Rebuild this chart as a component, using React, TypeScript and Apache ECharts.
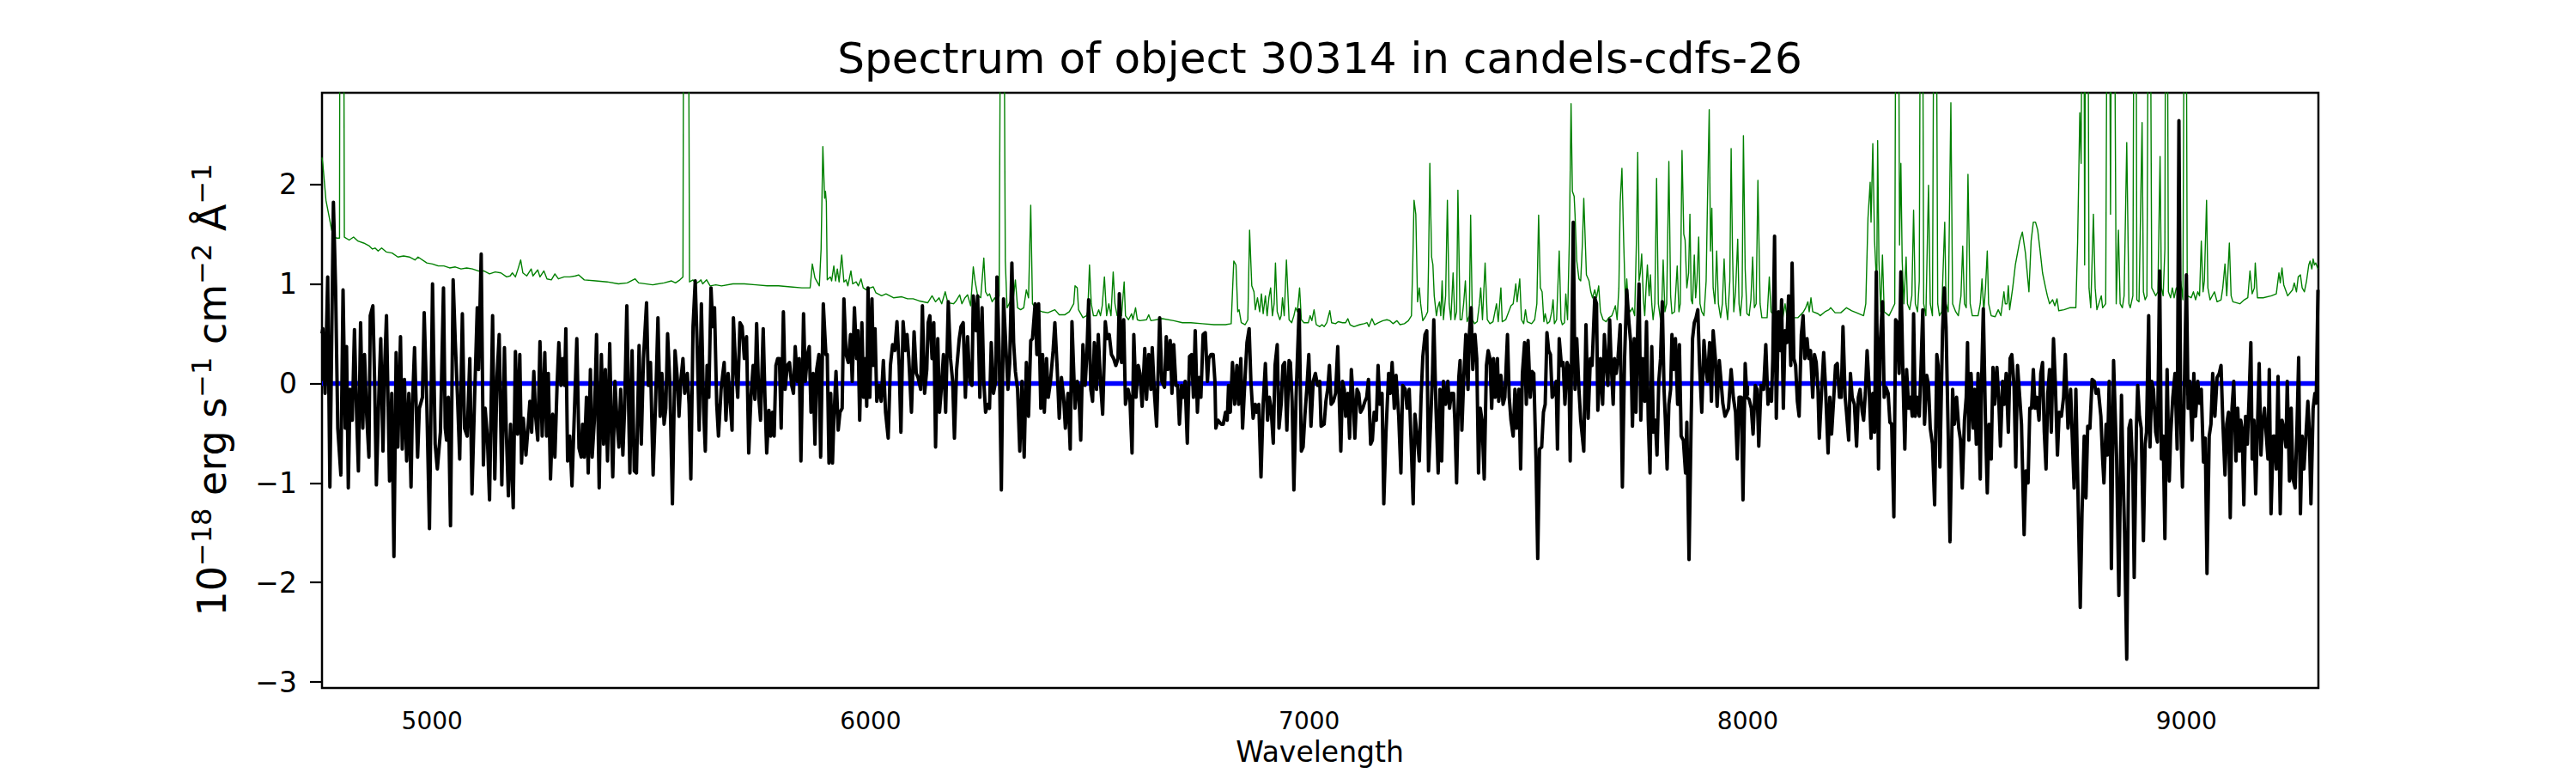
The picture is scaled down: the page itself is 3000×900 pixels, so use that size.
import React, { useEffect, useRef } from 'react';
import * as echarts from 'echarts';

const FONT = 'DejaVu Sans';
const titleText = 'Spectrum of object 30314 in candels-cdfs-26';
const xLabelText = 'Wavelength';
const yLabelRich = '{m|10}{s|\u221218}{m| erg s}{s|\u22121}{m| cm}{s|\u22122}{m| \u00c5}{s|\u22121}';
const xTicks = [5000, 6000, 7000, 8000, 9000];
const yTicks = [-3, -2, -1, 0, 1, 2];
const xRange = [4749, 9301];
const yRange = [-3.06, 2.92];

const continuum: number[][] = [[4749, 0], [9301, 0]];

const fluxA: number[][] = [
[4749,0.50],[4751,0.55],[4756,-0.10],[4762,1.07],[4767,-1.04],[4775,1.82],[4780,0.96],[4785,-0.45],[4792,-0.92],[4797,0.94],[4802,-0.45],[4805,0.37],[4809,-1.05],[4813,-0.06],[4818,-0.37],[4823,0.54],[4828,-0.33],[4832,-0.88],[4837,0.61],[4842,-0.45],[4846,0.29],[4851,-0.33],[4856,-0.74],[4859,0.68],[4865,0.78],[4869,0.02],[4873,-1.02],[4879,-0.06],[4883,0.45],[4888,-0.68],[4892,0.18],[4896,0.68],[4903,-0.98],[4908,-0.10],[4913,-1.74],[4918,0.31],[4922,-0.64],[4928,0.47],[4932,-0.66],[4937,0.04],[4942,-0.78],[4947,-0.10],[4952,-1.04],[4955,-0.25],[4960,0.36],[4967,-0.74],[4971,-0.25],[4978,-0.14],[4982,0.71],[4988,-0.21],[4994,-1.46],[5001,1.00],[5007,-0.61],[5012,-0.86],[5019,-0.49],[5026,0.96],[5030,-0.45],[5033,-0.57],[5037,-0.14],[5042,-1.43],[5048,1.04],[5053,0.41],[5058,-0.14],[5063,-0.76],[5069,0.70],[5074,-0.45],[5080,-0.53],[5086,0.25],[5091,-1.11],[5097,-0.14],[5103,0.76],[5106,0.14],[5112,1.30],[5117,-0.82],[5121,-0.25],[5126,-0.53],[5131,-1.17],[5138,0.68],[5143,-0.96],[5148,0.06],[5153,0.49],[5159,-1.02],[5165,0.36],[5169,-0.45],[5174,-1.13],[5179,-0.41],[5185,-1.25],[5190,0.32],[5195,-0.51],[5200,0.29],[5204,-0.80],[5208,-0.35],[5214,-0.72],[5218,-0.49],[5223,-0.18],[5227,-0.49],[5232,0.12],[5236,-0.33],[5241,-0.57],[5246,0.42],[5251,-0.53],[5257,0.31],[5261,-0.53],[5265,0.10],[5270,-0.96],[5275,-0.31],[5280,-0.74],[5285,-0.02],[5289,0.41],[5294,-0.02],[5298,0.25],[5302,-0.02],[5305,0.55],[5309,-0.78],[5314,-0.53],[5319,-1.03]
];
const fluxB: number[][] = [
[5330,0.45],[5335,-0.65],[5340,-0.74],[5343,-0.41],[5347,-0.74],[5352,-0.14],[5356,-0.90],[5361,0.14],[5365,-0.74],[5370,-0.37],[5375,0.49],[5381,-1.05],[5386,0.29],[5391,-0.61],[5395,0.14],[5400,-0.78],[5405,0.40],[5409,-0.49],[5412,-0.94],[5417,0.02],[5422,-0.41],[5426,-0.64],[5430,-0.06],[5435,-0.72],[5439,-0.25],[5444,0.78],[5448,-0.21],[5451,-0.90],[5456,0.33],[5461,-0.88],[5466,-0.90],[5472,0.38],[5477,-0.61],[5482,0.25],[5489,0.81],[5493,-0.02],[5498,0.21],[5504,-0.92],[5510,-0.14],[5515,0.66],[5520,-0.33],[5524,0.10],[5529,-0.41],[5533,-0.25],[5537,0.50],[5542,0.02],[5548,-1.21],[5554,0.33],[5559,0.06],[5563,-0.33],[5567,0.02],[5572,0.25],[5576,-0.10],[5582,0.10],[5586,-0.21],[5590,-0.96],[5595,0.57],[5600,1.03],[5604,0.45],[5609,-0.47],[5614,0.80],[5619,-0.25],[5623,-0.68],[5627,0.18],[5631,-0.14],[5636,0.96],[5640,0.57],[5644,0.76],[5649,-0.21],[5653,-0.53],[5659,-0.06],[5663,0.10],[5666,0.21],[5670,-0.37],[5675,0.10],[5679,-0.14],[5684,-0.47],[5687,0.66],[5692,0.18],[5697,-0.14],[5702,0.61],[5707,0.57],[5712,0.25],[5717,0.47],[5722,-0.70],[5727,-0.14],[5732,0.18],[5736,-0.16],[5740,0.60],[5745,-0.14],[5749,-0.37],[5755,0.55],[5759,-0.14],[5763,-0.70],[5768,-0.27],[5772,-0.53],[5776,-0.29],[5780,-0.53],[5784,0.18],[5788,0.25],[5792,0.25],[5796,-0.45],[5801,0.72],[5805,-0.06],[5810,0.18],[5815,0.21],[5820,-0.02],[5824,-0.10],[5828,0.37],[5833,0.02],[5837,0.25],[5841,-0.78],[5847,0.70],[5851,0.02],[5856,0.29],[5860,0.37],[5864,-0.29],[5869,0.10],[5873,-0.61],[5877,0.14],[5882,0.29],[5886,-0.74],[5892,0.80]
];
const fluxC: number[][] = [
[5898,0.29],[5901,0.29],[5905,-0.80],[5909,-0.10],[5913,-0.80],[5916,-0.37],[5921,0.12],[5926,-0.47],[5930,-0.29],[5935,-0.25],[5939,0.85],[5944,0.29],[5949,0.21],[5954,0.49],[5958,0.02],[5963,0.76],[5968,0.25],[5971,0.53],[5975,-0.37],[5980,0.61],[5984,-0.14],[5988,0.25],[5991,-0.23],[5994,0.96],[5998,-0.14],[6003,0.85],[6006,0.18],[6010,0.55],[6014,-0.18],[6019,-0.02],[6024,-0.18],[6029,0.23],[6034,-0.29],[6040,-0.55],[6045,0.18],[6050,0.39],[6055,0.33],[6060,0.62],[6065,0.18],[6069,-0.49],[6074,0.62],[6079,0.33],[6083,0.49],[6087,0.25],[6093,-0.29],[6099,0.52],[6104,0.10],[6108,0.06],[6114,-0.06],[6118,0.78],[6123,-0.10],[6128,0.14],[6131,0.61],[6135,0.68],[6140,0.25],[6144,0.61],[6148,-0.64],[6153,0.45],[6157,-0.29],[6161,-0.06],[6166,0.29],[6171,-0.29],[6177,0.82],[6182,0.25],[6187,0.02],[6191,-0.55],[6196,0.14],[6202,0.45],[6206,0.57],[6211,0.61],[6216,-0.14],[6221,0.47],[6226,0.02],[6231,-0.02],[6234,0.88],[6240,0.53],[6244,0.88],[6249,-0.14],[6254,0.76],[6258,0.02],[6262,-0.29],[6267,-0.21],[6271,-0.25],[6275,0.41],[6280,-0.10],[6285,0.02],[6288,1.07],[6293,0.33],[6298,-1.07],[6303,0.85],[6307,0.49],[6313,-0.06],[6317,0.21],[6322,1.21],[6326,0.41],[6330,0.12],[6335,-0.06],[6340,-0.68],[6345,0.02],[6350,-0.74],[6355,0.21],[6360,-0.33],[6365,0.43],[6369,0.45],[6375,0.80],[6379,0.29],[6383,0.80],[6388,-0.25],[6392,0.29],[6396,-0.29],[6401,0.25],[6405,-0.14],[6410,0.02],[6416,0.33],[6420,0.61],[6425,0.18],[6430,-0.35],[6435,0.06],[6440,-0.14],[6444,-0.45],[6450,-0.10],[6455,-0.66],[6459,0.62]
];
const fluxD: number[][] = [
[6466,-0.25],[6471,0.02],[6474,-0.02],[6479,-0.57],[6484,0.39],[6489,-0.02],[6493,0.29],[6497,0.84],[6502,-0.06],[6506,-0.18],[6510,0.41],[6515,-0.06],[6519,0.49],[6524,0.02],[6529,-0.31],[6535,0.62],[6539,0.45],[6544,0.49],[6549,0.29],[6554,0.25],[6559,0.18],[6564,0.25],[6567,0.90],[6572,0.21],[6577,0.64],[6581,-0.21],[6587,-0.06],[6591,-0.14],[6596,-0.70],[6600,0.49],[6605,-0.14],[6610,0.18],[6614,0.10],[6619,-0.23],[6625,0.35],[6629,-0.16],[6634,0.29],[6639,-0.06],[6642,0.36],[6647,-0.10],[6652,-0.43],[6659,0.66],[6664,0.02],[6670,-0.04],[6674,0.47],[6678,0.14],[6683,0.43],[6687,-0.10],[6691,0.39],[6696,-0.02],[6700,-0.02],[6704,-0.41],[6709,-0.02],[6713,-0.14],[6717,0.02],[6722,-0.60],[6727,0.27],[6732,0.29],[6736,-0.14],[6740,0.53],[6745,-0.29],[6749,0.06],[6753,-0.14],[6758,0.49],[6763,0.51],[6768,0.02],[6771,0.25],[6776,0.29],[6781,0.29],[6785,0.02],[6787,-0.45],[6792,-0.37],[6799,-0.41],[6804,-0.41],[6809,-0.29],[6813,-0.37],[6816,-0.02],[6820,-0.29],[6825,0.21],[6830,-0.21],[6835,0.18],[6839,-0.21],[6844,0.25],[6848,-0.45],[6853,0.00],[6858,0.41],[6863,0.55],[6867,0.02],[6872,-0.35],[6877,-0.21],[6880,-0.29],[6885,-0.21],[6890,-0.94],[6895,-0.20],[6900,0.20],[6905,-0.37],[6909,-0.14],[6913,-0.25],[6918,-0.60],[6922,0.18],[6927,0.39],[6931,-0.45],[6936,-0.21],[6940,0.18],[6944,0.21],[6949,-0.47],[6954,0.23],[6957,0.21],[6961,-0.18],[6965,-1.07],[6970,-0.14],[6973,0.25],[6977,0.74],[6982,-0.68],[6986,-0.64],[6990,-0.33],[6995,-0.02],[6999,0.29],[7004,-0.43],[7009,0.02],[7014,0.10],[7019,-0.02],[7024,0.02],[7027,-0.43]
];
const fluxE: number[][] = [
[7034,-0.41],[7038,-0.18],[7042,-0.06],[7046,0.18],[7050,-0.21],[7055,-0.18],[7060,-0.10],[7065,0.37],[7068,-0.10],[7072,-0.68],[7076,0.02],[7080,-0.06],[7083,-0.33],[7088,-0.10],[7092,-0.55],[7096,0.14],[7100,-0.14],[7104,-0.55],[7109,-0.06],[7113,-0.10],[7117,-0.29],[7122,-0.25],[7127,-0.18],[7131,-0.14],[7135,0.04],[7140,-0.61],[7144,-0.57],[7148,-0.29],[7153,-0.37],[7157,0.18],[7161,-0.21],[7166,-0.10],[7170,-1.21],[7175,-0.49],[7181,0.10],[7185,-0.10],[7189,0.21],[7194,-0.25],[7198,0.08],[7204,-0.33],[7209,-0.90],[7213,-0.02],[7219,-0.06],[7223,-0.25],[7228,-0.06],[7233,-0.68],[7237,-1.21],[7241,-0.31],[7246,-0.53],[7251,-0.78],[7255,-0.14],[7259,0.27],[7264,0.49],[7268,0.53],[7272,-0.88],[7277,-0.37],[7281,0.10],[7284,0.64],[7289,-0.25],[7294,-0.90],[7298,-0.06],[7302,-0.78],[7306,0.02],[7311,-0.21],[7316,0.02],[7320,-0.25],[7324,-0.10],[7329,-0.10],[7332,-0.37],[7336,-1.00],[7341,0.06],[7344,0.23],[7348,-0.47],[7352,0.02],[7357,0.49],[7362,-0.06],[7365,0.49],[7369,0.76],[7373,0.14],[7378,0.49],[7382,0.25],[7386,-0.90],[7390,-0.25],[7394,-0.37],[7399,-0.96],[7404,0.18],[7408,0.33],[7412,0.25],[7416,-0.25],[7420,0.25],[7424,-0.14],[7429,0.25],[7432,-0.18],[7437,0.08],[7442,-0.21],[7446,-0.14],[7452,0.49],[7456,-0.14],[7460,-0.37],[7465,-0.53],[7469,-0.06],[7473,-0.45],[7478,-0.06],[7482,-0.86],[7486,0.10],[7491,0.41],[7495,-0.21],[7499,0.43],[7504,-0.14],[7508,0.12],[7512,0.10],[7517,-0.76],[7521,-1.76],[7525,-0.66],[7530,-0.64],[7534,-0.29],[7538,-0.21],[7542,0.51],[7546,0.33],[7550,0.29],[7554,-0.14],[7558,-0.10],[7563,0.02],[7566,-0.66],[7570,0.45],[7575,0.18],[7579,0.21],[7583,-0.21],[7588,0.21],[7592,0.16],[7595,-0.78]
];
const fluxF: number[][] = [
[7598,0.18],[7602,1.62],[7606,-0.06],[7610,0.45],[7615,-0.06],[7619,-0.37],[7626,-0.68],[7631,0.59],[7636,-0.35],[7641,0.25],[7645,0.18],[7651,0.86],[7655,0.80],[7658,-0.27],[7664,0.25],[7669,-0.21],[7673,0.49],[7677,0.21],[7681,-0.02],[7685,0.64],[7688,0.25],[7693,-0.21],[7696,0.25],[7700,0.10],[7704,0.25],[7709,0.59],[7714,-1.04],[7719,0.25],[7724,0.94],[7729,0.61],[7733,0.41],[7737,-0.43],[7741,0.45],[7745,-0.29],[7749,0.57],[7752,1.00],[7756,-0.37],[7760,0.25],[7765,-0.18],[7769,0.62],[7773,-0.37],[7777,-0.90],[7781,0.37],[7785,-0.49],[7789,-0.37],[7793,-0.72],[7797,0.02],[7801,0.25],[7805,0.82],[7809,-0.06],[7812,-0.37],[7816,-0.86],[7820,-0.21],[7824,-0.06],[7827,0.49],[7831,0.14],[7835,0.45],[7840,-0.21],[7844,0.39],[7848,-0.53],[7853,-0.57],[7858,-0.90],[7861,-0.39],[7866,-1.77],[7871,-0.33],[7874,0.45],[7878,0.61],[7882,0.66],[7886,0.74],[7890,0.18],[7895,-0.29],[7900,0.43],[7904,0.18],[7908,0.02],[7913,0.41],[7917,-0.18],[7921,0.53],[7926,0.25],[7930,-0.23],[7935,0.23],[7939,0.02],[7943,-0.20],[7948,-0.33],[7952,-0.29],[7956,-0.25],[7962,0.14],[7967,-0.14],[7972,-0.29],[7976,-0.76],[7980,-0.14],[7985,-0.14],[7989,-1.17],[7994,0.20],[7998,-0.14],[8003,-0.16],[8008,-0.25],[8012,-0.51],[8017,-0.02],[8021,-0.06],[8025,-0.63],[8030,-0.02],[8036,-0.06],[8041,0.39],[8046,-0.21],[8050,-0.06],[8054,-0.18],[8057,0.25],[8061,1.48],[8065,-0.35],[8070,0.72],[8074,0.33],[8077,0.84],[8081,-0.25],[8085,0.53],[8089,0.41],[8093,0.88],[8098,0.18],[8101,1.21],[8105,0.25],[8109,0.18],[8113,-0.18],[8117,-0.33],[8122,0.49],[8126,0.68],[8130,0.25],[8135,0.45],[8139,0.25],[8143,0.33],[8148,-0.14],[8152,0.29],[8156,0.21],[8160,-0.06],[8163,-0.55]
];
const fluxG: number[][] = [
[8168,-0.10],[8173,0.31],[8177,-0.02],[8183,-0.70],[8187,-0.14],[8191,-0.51],[8196,-0.14],[8200,0.18],[8204,0.20],[8209,-0.14],[8213,-0.14],[8217,0.57],[8222,-0.14],[8225,-0.29],[8230,-0.57],[8234,0.10],[8238,-0.14],[8243,-0.21],[8248,-0.63],[8252,-0.14],[8256,-0.06],[8261,-0.29],[8264,-0.37],[8268,-0.10],[8272,0.33],[8276,0.02],[8281,-0.55],[8285,-0.10],[8289,-0.49],[8293,1.12],[8298,-0.86],[8302,0.41],[8307,0.82],[8311,-0.14],[8315,-0.04],[8320,-0.10],[8324,-0.39],[8328,-0.41],[8333,-1.34],[8337,0.64],[8341,0.61],[8345,0.10],[8349,1.12],[8354,0.02],[8358,-0.66],[8362,0.14],[8367,-0.25],[8371,-0.14],[8375,-0.33],[8378,0.70],[8382,-0.33],[8386,-0.14],[8391,-0.33],[8395,0.18],[8399,0.74],[8403,-0.41],[8408,0.08],[8412,-0.02],[8416,-0.45],[8421,-0.61],[8426,-1.22],[8431,0.29],[8434,0.18],[8438,-0.84],[8444,0.53],[8448,0.96],[8452,0.57],[8457,-0.53],[8461,-1.59],[8467,-0.06],[8471,-0.41],[8476,-0.14],[8481,-0.45],[8485,-0.57],[8489,-1.05],[8494,-0.37],[8498,-0.14],[8501,0.41],[8504,-0.57],[8509,0.10],[8514,-0.45],[8517,-0.06],[8521,-0.61],[8525,0.10],[8530,-0.96],[8533,0.02],[8537,0.75],[8542,-0.41],[8546,-1.10],[8550,-0.41],[8555,-0.76],[8559,0.16],[8563,-0.21],[8568,0.16],[8572,-0.14],[8576,-0.63],[8581,0.02],[8585,-0.21],[8589,0.10],[8594,-0.49],[8598,0.25],[8602,0.29],[8607,-0.02],[8611,-0.84],[8615,0.18],[8620,-0.14],[8624,-0.41],[8630,-1.52],[8634,-0.88],[8639,-1.00],[8643,-0.25],[8647,-0.25],[8651,0.14],[8655,-0.25],[8659,-0.14],[8664,-0.37],[8668,0.10],[8672,0.21],[8676,-0.49],[8680,-0.86],[8684,-0.10],[8688,0.14],[8692,-0.49],[8697,0.45],[8701,0.02],[8706,-0.72],[8710,-0.29],[8715,-0.33],[8720,-0.14],[8724,0.29],[8730,-0.45]
];
const fluxH: number[][] = [
[8736,-0.06],[8739,-0.45],[8744,-1.05],[8748,-0.06],[8752,-0.92],[8758,-2.25],[8762,-1.31],[8767,-0.53],[8771,-1.15],[8775,-0.43],[8780,-0.45],[8785,0.04],[8790,0.02],[8794,-0.10],[8799,-0.06],[8805,-0.33],[8809,-0.76],[8812,-1.00],[8817,-0.41],[8820,-0.72],[8824,0.02],[8827,-0.70],[8829,-1.86],[8834,0.23],[8837,-0.21],[8841,-0.76],[8846,-2.13],[8852,-0.12],[8855,-0.76],[8859,-1.50],[8864,-2.77],[8869,-0.45],[8873,-0.37],[8878,-0.92],[8881,-1.95],[8886,-0.45],[8889,-0.02],[8893,-0.33],[8897,-0.45],[8902,-1.58],[8906,-0.61],[8909,-0.49],[8914,0.68],[8917,-0.64],[8921,0.02],[8925,-0.06],[8930,-0.49],[8934,-0.59],[8939,1.13],[8943,-0.76],[8947,-0.53],[8951,-1.56],[8956,0.14],[8961,-0.98],[8964,-0.53],[8969,-0.14],[8974,0.10],[8979,-0.66],[8983,2.64],[8987,-0.37],[8991,-1.04],[8995,-0.14],[9000,1.09],[9004,-0.25],[9008,0.02],[9013,-0.57],[9017,0.10],[9021,-0.33],[9026,0.02],[9030,-0.20],[9034,-0.06],[9039,-0.79],[9043,-0.55],[9047,-1.91],[9052,-0.53],[9056,-0.41],[9060,0.10],[9065,-0.33],[9070,0.06],[9075,0.10],[9079,0.18],[9083,-0.37],[9088,-0.92],[9092,-0.41],[9096,-0.29],[9100,-1.35],[9104,-0.25],[9108,0.02],[9113,-0.78],[9117,-0.25],[9121,-0.68],[9124,-0.37],[9127,-0.45],[9131,-1.22],[9135,-0.33],[9139,-0.61],[9143,-0.14],[9147,0.41],[9150,-0.76],[9154,-0.37],[9158,-1.11],[9162,-0.45],[9166,0.20],[9170,-0.72],[9173,-0.45],[9178,-0.25],[9182,-0.51],[9186,-0.76],[9189,0.14],[9193,-1.31],[9198,-0.53],[9201,-0.53],[9205,-0.86],[9209,0.07],[9214,-1.31],[9218,-0.37],[9222,-0.45],[9227,-0.64],[9230,0.02],[9235,-0.98],[9239,-0.25],[9243,-0.96],[9248,-1.05],[9252,-0.47],[9256,0.26],[9260,-1.31],[9264,-0.53],[9268,-0.86],[9273,-0.49],[9277,-0.18],[9280,-0.45],[9284,-1.21],[9289,-0.25],[9293,-0.10],[9296,-0.20],[9300,0.94]
];

const noiseA: number[][] = [
[4749,2.27],[4751,2.20],[4758,1.84],[4766,1.66],[4771,1.54],[4776,1.48],[4782,1.46],[4789,1.46],[4790,5],[4798,5],[4800,1.47],[4811,1.44],[4821,1.47],[4831,1.43],[4844,1.41],[4857,1.38],[4864,1.35],[4870,1.36],[4877,1.33],[4885,1.36],[4896,1.32],[4909,1.31],[4922,1.27],[4935,1.28],[4948,1.27],[4961,1.24],[4968,1.27],[4988,1.21],[5001,1.20],[5014,1.18],[5027,1.18],[5040,1.16],[5053,1.17],[5066,1.15],[5079,1.16],[5092,1.15],[5105,1.13],[5118,1.13],[5131,1.10],[5144,1.12],[5157,1.11],[5170,1.07],[5178,1.08],[5183,1.11],[5190,1.07],[5196,1.15],[5202,1.24],[5207,1.11],[5216,1.08],[5226,1.15],[5230,1.08],[5241,1.14],[5246,1.07],[5255,1.13],[5262,1.05],[5272,1.04],[5280,1.10],[5288,1.05],[5301,1.07],[5314,1.07],[5327,1.08]
];
const noiseB: number[][] = [
[5334,1.09],[5347,1.04],[5373,1.03],[5399,1.02],[5425,1.00],[5445,1.01],[5463,1.05],[5471,1.01],[5503,0.99],[5529,1.01],[5546,1.03],[5555,1.01],[5565,1.04],[5572,1.07],[5574,5],[5584,5],[5587,1.02],[5595,1.04],[5601,1.00],[5608,1.02],[5613,1.04],[5617,1.00],[5626,1.04],[5634,0.98],[5647,0.99],[5660,0.98],[5686,1.00],[5712,1.00],[5738,0.99],[5764,0.98],[5790,0.98],[5817,0.97],[5843,0.96],[5862,0.96],[5867,1.20],[5873,1.06]
];
const noiseC: number[][] = [
[5883,0.98],[5887,1.35],[5891,2.38],[5895,1.86],[5897,1.93],[5899,1.82],[5901,1.04],[5908,1.07],[5911,1.03],[5916,1.18],[5920,1.03],[5924,1.15],[5928,1.02],[5934,1.29],[5939,1.02],[5944,1.04],[5948,0.98],[5955,1.13],[5959,1.00],[5967,1.02],[5972,0.98],[5978,1.05],[5983,0.96],[5990,0.94],[5999,0.96],[6006,0.97],[6012,0.91],[6025,0.88],[6035,0.90],[6052,0.86],[6071,0.87],[6084,0.85],[6097,0.85],[6110,0.83],[6130,0.81],[6140,0.88],[6148,0.82],[6156,0.86],[6162,0.80],[6170,0.92],[6176,0.81],[6189,0.80],[6195,0.83],[6203,0.89],[6208,0.80],[6215,0.86],[6221,0.89],[6228,0.78],[6234,1.17],[6238,1.03],[6244,0.88],[6251,0.86],[6258,1.26],[6262,0.92],[6267,0.88],[6271,0.90],[6277,0.82],[6283,0.86],[6288,0.82],[6293,0.88],[6297,5],[6303,5],[6307,1.23],[6311,0.76],[6318,0.82],[6324,0.80],[6330,1.04],[6335,0.76],[6342,0.74],[6349,0.76],[6355,0.94],[6360,0.86],[6365,1.79],[6369,0.80],[6378,0.74],[6391,0.72],[6404,0.71],[6420,0.74],[6430,0.69],[6443,0.69],[6453,0.72]
];
const noiseD: number[][] = [
[6463,0.80],[6466,0.98],[6471,0.96],[6474,0.74],[6484,0.66],[6492,0.68],[6495,0.72],[6499,1.19],[6503,0.80],[6508,0.68],[6515,0.68],[6520,0.74],[6524,0.68],[6528,0.78],[6533,1.07],[6538,0.68],[6543,0.80],[6548,0.68],[6553,1.12],[6557,0.80],[6562,0.68],[6572,0.68],[6578,1.02],[6581,0.68],[6588,0.64],[6595,0.70],[6598,0.64],[6604,0.76],[6608,0.64],[6614,0.63],[6629,0.64],[6634,0.69],[6639,0.63],[6665,0.65],[6691,0.63],[6711,0.61],[6730,0.61],[6756,0.60],[6783,0.59],[6809,0.59],[6822,0.60],[6825,0.92],[6828,1.23],[6833,1.19],[6837,0.72],[6840,0.74],[6845,0.61],[6854,0.59],[6860,0.64],[6864,1.54],[6869,0.98],[6874,0.92],[6877,0.74],[6882,0.86],[6887,0.72],[6891,0.90],[6895,0.70],[6900,0.88],[6904,0.68],[6908,0.86],[6912,0.96],[6916,0.68],[6920,0.80],[6923,1.21],[6927,0.72],[6933,0.64],[6936,0.68],[6939,0.86],[6943,0.68],[6948,1.24],[6954,0.64],[6960,0.61],[6965,0.68],[6969,0.76],[6973,0.72],[6978,0.96],[6982,0.64],[6988,0.61],[6998,0.61],[7002,0.68],[7006,0.63],[7011,0.74],[7016,0.59],[7024,0.57],[7029,0.59]
];
const noiseE: number[][] = [
[7034,0.57],[7040,0.61],[7047,0.73],[7051,0.61],[7060,0.60],[7066,0.62],[7076,0.61],[7083,0.61],[7088,0.65],[7093,0.59],[7102,0.57],[7115,0.59],[7125,0.60],[7132,0.61],[7136,0.57],[7143,0.65],[7149,0.59],[7158,0.61],[7168,0.63],[7177,0.64],[7184,0.63],[7191,0.60],[7200,0.63],[7207,0.59],[7217,0.60],[7226,0.63],[7233,0.68],[7236,1.19],[7239,1.84],[7243,1.70],[7247,0.82],[7251,0.96],[7254,0.80],[7259,0.63],[7266,0.68],[7270,0.72],[7272,1.19],[7275,2.21],[7279,1.27],[7282,1.19],[7285,0.88],[7290,0.68],[7293,0.76],[7297,0.82],[7300,0.68],[7303,1.03],[7306,0.64],[7311,0.88],[7315,1.84],[7319,0.80],[7323,0.64],[7328,1.11],[7332,0.64],[7336,0.72],[7339,1.94],[7344,0.64],[7348,0.64],[7352,0.80],[7356,1.03],[7360,0.62],[7365,0.68],[7368,1.69],[7372,0.64],[7377,0.60],[7383,0.62],[7388,0.80],[7391,0.96],[7395,0.64],[7401,1.21],[7406,0.64],[7412,0.60],[7419,0.62],[7427,0.80],[7431,0.62],[7437,0.96],[7440,0.62],[7448,0.64],[7460,0.78],[7465,0.80],[7471,1.00],[7474,0.82],[7480,1.05],[7484,0.64],[7489,0.60],[7493,0.74],[7497,0.62],[7507,0.60],[7514,0.64],[7519,0.80],[7523,1.69],[7527,0.96],[7531,0.92],[7535,0.62],[7538,0.70],[7543,0.60],[7548,0.62],[7553,0.72],[7556,0.84],[7559,0.60],[7564,0.64],[7570,1.33],[7574,0.64],[7577,0.59],[7582,0.61],[7585,0.90],[7589,0.64]
];
const noiseF: number[][] = [
[7593,1.42],[7597,2.81],[7600,1.93],[7604,1.88],[7606,1.70],[7610,1.23],[7615,1.05],[7619,1.03],[7623,1.42],[7626,1.86],[7630,1.35],[7632,1.09],[7638,1.03],[7642,0.92],[7646,0.86],[7651,0.94],[7655,0.86],[7660,0.98],[7664,0.72],[7670,0.64],[7677,0.62],[7683,0.66],[7690,0.68],[7695,0.74],[7698,0.78],[7702,0.64],[7706,0.96],[7709,1.82],[7713,2.16],[7717,1.42],[7721,0.80],[7724,1.05],[7728,0.76],[7732,0.72],[7737,0.76],[7742,0.68],[7746,1.42],[7749,2.32],[7752,1.03],[7755,1.11],[7758,1.30],[7762,0.84],[7765,0.68],[7768,0.96],[7771,1.19],[7775,0.88],[7778,1.09],[7781,0.80],[7784,0.64],[7788,0.80],[7792,2.06],[7796,0.80],[7801,0.64],[7804,0.80],[7807,1.24],[7811,0.72],[7815,0.80],[7820,2.23],[7824,0.88],[7827,0.70],[7833,0.72],[7839,1.18],[7843,0.72],[7846,0.80],[7850,2.34],[7854,1.50],[7857,1.44],[7861,0.96],[7865,1.11],[7868,1.70],[7871,0.84],[7874,0.80],[7878,1.29],[7881,0.86],[7884,1.03],[7888,1.47],[7891,0.80],[7895,0.72],[7900,0.68],[7905,1.03],[7908,1.82],[7912,2.75],[7915,1.33],[7918,1.76],[7921,0.96],[7925,0.80],[7929,1.33],[7933,0.80],[7938,0.66],[7942,0.80],[7946,1.25],[7950,0.80],[7954,0.64],[7959,1.03],[7962,2.36],[7965,1.35],[7968,0.72],[7972,0.92],[7977,1.45],[7980,0.80],[7983,0.68],[7987,0.88],[7990,2.49],[7994,1.15],[7998,0.70],[8003,0.68],[8007,0.84],[8011,1.27],[8015,0.76],[8019,0.80],[8023,2.04],[8028,0.80],[8032,0.66],[8044,0.66],[8049,1.07],[8053,0.72],[8065,0.66],[8076,0.72],[8080,0.66],[8085,0.80],[8089,0.68],[8094,0.88],[8098,0.80],[8101,0.66],[8114,0.66],[8127,0.72],[8132,0.76],[8137,0.82],[8140,0.72],[8144,0.86],[8148,0.72],[8160,0.70]
];
const noiseG: number[][] = [
[8165,0.68],[8176,0.72],[8185,0.74],[8189,0.76],[8199,0.71],[8212,0.71],[8225,0.76],[8237,0.73],[8248,0.71],[8264,0.68],[8269,0.80],[8274,1.66],[8279,2.02],[8281,1.62],[8285,2.41],[8289,1.43],[8294,0.96],[8296,2.44],[8299,1.23],[8303,0.72],[8307,1.29],[8311,0.72],[8322,0.68],[8335,0.80],[8338,5],[8343,5],[8346,1.39],[8349,2.21],[8352,1.23],[8356,0.80],[8361,1.27],[8364,0.80],[8369,0.74],[8374,0.88],[8378,1.74],[8382,0.80],[8387,0.72],[8391,1.03],[8394,5],[8398,5],[8401,0.80],[8406,0.68],[8412,1.99],[8416,0.80],[8421,0.68],[8425,5],[8429,5],[8433,0.80],[8437,0.68],[8442,0.72],[8446,1.23],[8449,1.62],[8452,0.80],[8457,0.72],[8463,2.82],[8467,0.80],[8474,0.72],[8480,0.68],[8486,0.88],[8490,1.38],[8494,0.80],[8498,0.76],[8502,2.10],[8507,0.80],[8512,0.68],[8525,0.68],[8530,0.80],[8534,1.05],[8538,0.72],[8542,0.96],[8546,1.33],[8549,0.80],[8555,0.68],[8564,0.67],[8571,0.74],[8577,0.68],[8584,0.92],[8587,0.80],[8591,0.80],[8594,0.98],[8597,0.74],[8604,0.96],[8610,1.19],[8620,1.43],[8626,1.52],[8633,1.31],[8641,0.92],[8646,1.43],[8651,1.62],[8656,1.62],[8661,1.54],[8666,1.35],[8672,1.11],[8679,0.96],[8683,0.88],[8688,0.80],[8695,0.84],[8700,0.78],[8705,0.85],[8709,0.73]
];
const noiseH: number[][] = [
[8721,0.74],[8734,0.76],[8748,0.76],[8752,1.42],[8757,2.72],[8760,2.21],[8763,5],[8766,5],[8768,1.19],[8771,5],[8775,5],[8778,0.96],[8782,0.76],[8788,1.70],[8792,0.96],[8796,0.74],[8806,0.88],[8809,0.76],[8816,0.80],[8820,5],[8824,5],[8827,1.70],[8830,5],[8835,5],[8840,0.80],[8845,1.54],[8849,0.80],[8854,0.76],[8858,0.88],[8864,2.42],[8869,0.80],[8872,0.76],[8878,0.88],[8881,5],[8885,5],[8887,0.84],[8892,0.82],[8899,2.62],[8902,0.92],[8906,0.84],[8910,0.88],[8914,5],[8917,5],[8921,0.96],[8930,0.88],[8935,0.92],[8940,2.28],[8943,0.96],[8947,0.88],[8951,1.35],[8953,5],[8956,5],[8959,0.92],[8964,0.86],[8968,0.96],[8972,0.86],[8977,0.96],[8982,0.92],[8987,1.03],[8992,0.84],[8996,5],[8999,5],[9002,0.88],[9011,0.86],[9016,0.92],[9021,0.84],[9026,0.92],[9030,0.88],[9034,1.43],[9038,0.92],[9041,1.03],[9046,1.84],[9049,0.96],[9054,0.84],[9064,0.92],[9070,0.82],[9079,0.84],[9083,0.96],[9088,1.20],[9092,0.88],[9098,1.41],[9102,0.88],[9106,0.82],[9122,0.80],[9132,0.84],[9140,0.86],[9145,1.13],[9150,0.90],[9155,0.96],[9157,1.21],[9162,0.86],[9175,0.86],[9194,0.88],[9205,0.90],[9211,1.11],[9214,1.01],[9218,1.16],[9222,0.99],[9231,0.88],[9242,0.94],[9246,1.01],[9251,0.92],[9255,1.07],[9260,1.09],[9264,0.96],[9269,0.92],[9274,1.03],[9279,1.19],[9282,1.23],[9286,1.15],[9289,1.25],[9292,1.19],[9295,1.21],[9300,1.15]
];

const flux = [...fluxA, ...fluxB, ...fluxC, ...fluxD, ...fluxE, ...fluxF, ...fluxG, ...fluxH];
const noise = [...noiseA, ...noiseB, ...noiseC, ...noiseD, ...noiseE, ...noiseF, ...noiseG, ...noiseH];

const fmtY = (v: number) => (v < 0 ? '\u2212' + Math.abs(v) : String(v));

export default function App() {
  const ref = useRef<HTMLDivElement>(null);
  useEffect(() => {
    if (!ref.current) return;
    const chart = echarts.init(ref.current, null, { renderer: 'svg', width: 3000, height: 900 });
    const axisText = { color: '#000', fontFamily: FONT };
    chart.setOption({
      animation: false,
      backgroundColor: '#ffffff',
      grid: {
        left: 375, top: 108, width: 2325, height: 693,
        show: true, borderColor: '#000', borderWidth: 2.5, backgroundColor: 'transparent',
      },
      xAxis: {
        type: 'value', min: xRange[0], max: xRange[1],
        axisLine: { show: false },
        splitLine: { show: false },
        axisTick: { show: true, length: 14, lineStyle: { color: '#000', width: 2.2 }, customValues: xTicks },
        axisLabel: { ...axisText, fontSize: 28, margin: 24, customValues: xTicks, formatter: (v: number) => String(v) },
      },
      yAxis: {
        type: 'value', min: yRange[0], max: yRange[1],
        axisLine: { show: false },
        splitLine: { show: false },
        axisTick: { show: true, length: 14, lineStyle: { color: '#000', width: 2.2 }, customValues: yTicks },
        axisLabel: { ...axisText, fontSize: 33, margin: 29, customValues: yTicks, formatter: fmtY },
      },
      graphic: [
        {
          type: 'text', x: 1537, y: 68,
          style: { text: titleText, fontSize: 50, fontFamily: FONT, fill: '#000', textAlign: 'center', textVerticalAlign: 'middle', align: 'center', verticalAlign: 'middle' },
        },
        {
          type: 'text', x: 1537, y: 875,
          style: { text: xLabelText, fontSize: 33, fontFamily: FONT, fill: '#000', textAlign: 'center', textVerticalAlign: 'middle', align: 'center', verticalAlign: 'middle' },
        },
        {
          type: 'text', x: 247, y: 454, rotation: Math.PI / 2,
          style: {
            text: yLabelRich, fill: '#000', fontFamily: FONT,
            textAlign: 'center', textVerticalAlign: 'middle', align: 'center', verticalAlign: 'middle',
            rich: {
              m: { fontSize: 46, lineHeight: 56, fontFamily: FONT, fill: '#000', color: '#000' },
              s: { fontSize: 32, lineHeight: 28, verticalAlign: 'top', fontFamily: FONT, fill: '#000', color: '#000' },
            },
          },
        },
      ],
      series: [
        {
          type: 'line', data: continuum, showSymbol: false, symbol: 'none', z: 1,
          lineStyle: { color: '#0000ff', width: 5.5 }, silent: true,
        },
        {
          type: 'line', data: noise, showSymbol: false, symbol: 'none', z: 2, clip: true,
          lineStyle: { color: '#008000', width: 1.4, join: 'round' }, silent: true,
        },
        {
          type: 'line', data: flux, showSymbol: false, symbol: 'none', z: 3, clip: true,
          lineStyle: { color: '#000000', width: 4, join: 'round' }, silent: true,
        },
      ],
    });
    return () => chart.dispose();
  }, []);
  return <div ref={ref} style={{ position: 'fixed', left: 0, top: 0, width: 3000, height: 900, background: '#fff' }} />;
}
